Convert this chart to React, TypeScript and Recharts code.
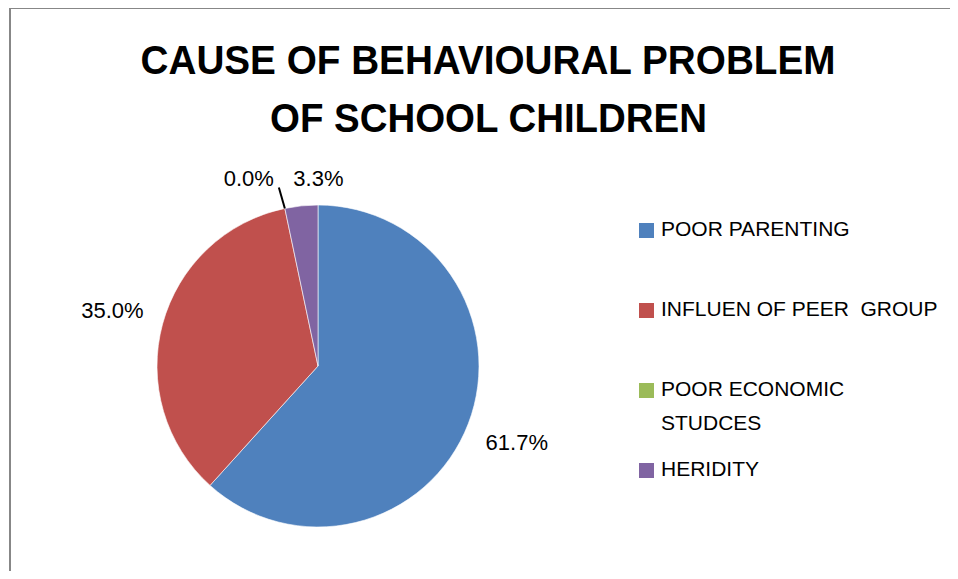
import { Cell, Legend, Pie, PieChart } from 'recharts'

const causes = ['POOR PARENTING', 'INFLUEN OF PEER  GROUP', 'POOR ECONOMIC STUDCES', 'HERIDITY']
const shares = [61.7, 35.0, 0.0, 3.3]
const colors = ['#4F81BD', '#C0504D', '#9BBB59', '#8064A2']
const titleLines = ['CAUSE OF BEHAVIOURAL PROBLEM', 'OF SCHOOL CHILDREN']

const data = causes.map((name, i) => ({ name, value: shares[i] }))

const FONT = '"Liberation Sans", Arial, sans-serif'
const RADIAN = Math.PI / 180

function renderLabel(props: any) {
  const { cx, cy, midAngle, outerRadius, value } = props
  const text = `${Number(value).toFixed(1)}%`
  const cos = Math.cos(-midAngle * RADIAN)
  const sin = Math.sin(-midAngle * RADIAN)

  // small slices: labels sit side by side above the pie
  if (value < 5) {
    const ax = cx + outerRadius * cos
    const ay = cy + outerRadius * sin
    const base = cy - outerRadius - 19
    if (value === 0) {
      return (
        <g>
          <line x1={ax} y1={ay} x2={ax - 6} y2={ay - 21} stroke='#000' strokeWidth={2} />
          <text x={ax - 11} y={base} textAnchor='end' fontSize={22} fontFamily={FONT} fill='#000'>
            {text}
          </text>
        </g>
      )
    }
    return (
      <text x={ax - 8} y={base} textAnchor='start' fontSize={22} fontFamily={FONT} fill='#000'>
        {text}
      </text>
    )
  }

  const r = outerRadius + 52
  return (
    <text
      x={cx + r * cos}
      y={cy + r * sin}
      textAnchor='middle'
      dominantBaseline='central'
      fontSize={22}
      fontFamily={FONT}
      fill='#000'
    >
      {text}
    </text>
  )
}

// legend keeps the series order (Recharts would sort it by name)
function LegendList() {
  return (
    <div style={{ position: 'relative', width: 300 }}>
      {causes.map((name, i) => (
        <div key={name} style={{ position: 'relative', height: 80 }}>
          <div style={{ position: 'absolute', left: 0, top: 0, width: 15, height: 15, background: colors[i] }} />
          <div
            style={{
              position: 'absolute',
              left: 22,
              top: -11,
              width: 284,
              fontFamily: FONT,
              fontSize: 21,
              lineHeight: '34px',
              color: '#000',
              whiteSpace: 'pre-wrap',
              textAlign: 'left'
            }}
          >
            {name}
          </div>
        </div>
      ))}
    </div>
  )
}

export default function App() {
  return (
    <div style={{ position: 'relative', width: 958, height: 579, margin: -8, overflow: 'hidden', background: '#fff' }}>
      <div
        style={{
          position: 'absolute',
          left: 9,
          top: 7,
          width: 1000,
          height: 700,
          borderLeft: '2px solid #878787',
          borderTop: '2px solid #878787'
        }}
      />
      <svg width={958} height={160} style={{ position: 'absolute', left: 0, top: 0 }}>
        <text x={488} y={74} textAnchor='middle' fontSize={41} fontWeight='bold' fontFamily={FONT} textLength={695} lengthAdjust='spacingAndGlyphs'>
          {titleLines[0]}
        </text>
        <text x={488.5} y={132} textAnchor='middle' fontSize={41} fontWeight='bold' fontFamily={FONT} textLength={437} lengthAdjust='spacingAndGlyphs'>
          {titleLines[1]}
        </text>
      </svg>
      <div style={{ position: 'absolute', left: 0, top: 0 }}>
        <PieChart width={958} height={579} margin={{ top: 0, right: 0, bottom: 0, left: 0 }}>
          <Pie
            data={data}
            dataKey='value'
            nameKey='name'
            cx={318}
            cy={366}
            outerRadius={161}
            startAngle={90}
            endAngle={-270}
            stroke='#ffffff'
            strokeWidth={0.6}
            label={renderLabel}
            labelLine={false}
            isAnimationActive={false}
          >
            {data.map((d, i) => (
              <Cell key={d.name} fill={colors[i]} />
            ))}
          </Pie>
          <Legend
            layout='vertical'
            content={<LegendList />}
            wrapperStyle={{ position: 'absolute', left: 639, top: 223, width: 310 }}
          />
        </PieChart>
      </div>
    </div>
  )
}
